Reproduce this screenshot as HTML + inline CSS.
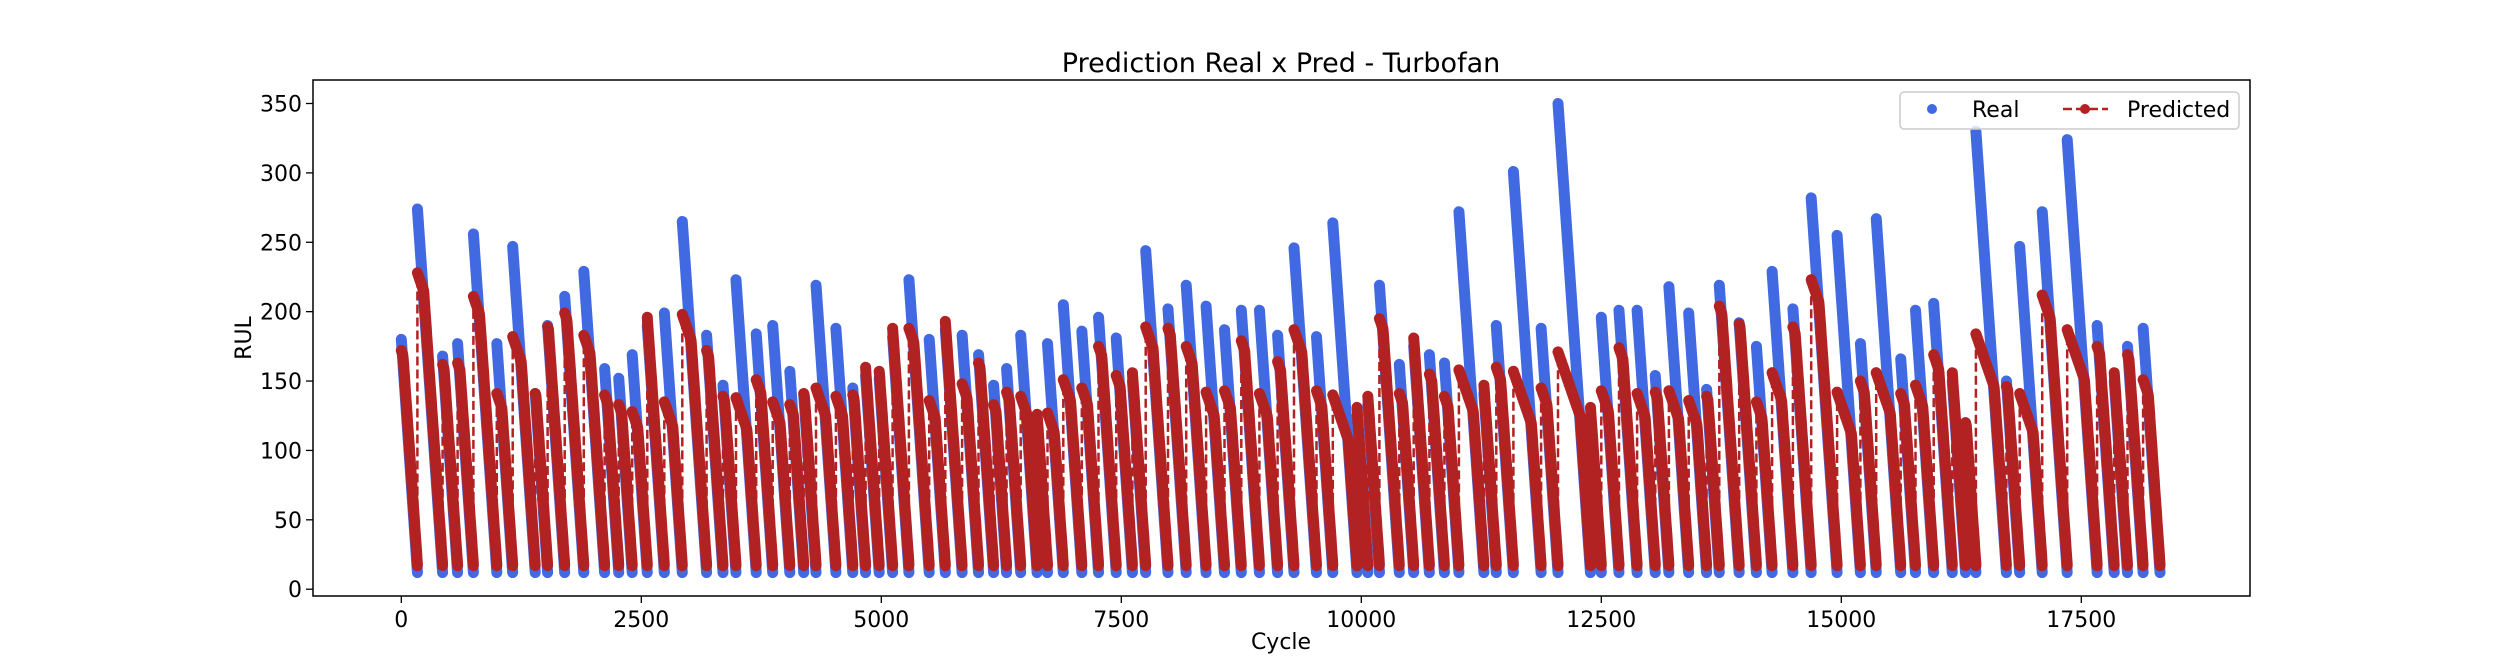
<!DOCTYPE html>
<html><head><meta charset="utf-8"><style>
html,body{margin:0;padding:0;background:#fff;}
svg{display:block;font-family:"DejaVu Sans","Liberation Sans",sans-serif;}
</style></head><body>
<svg id="chart" width="2500" height="670" viewBox="0 0 2500 670" xmlns="http://www.w3.org/2000/svg">
<rect x="0" y="0" width="2500" height="670" fill="#fff"/>
<text x="1281" y="72" font-size="27" text-anchor="middle" fill="#000">Prediction Real x Pred - Turbofan</text>
<g id="plot"></g>
<g id="axes"></g>
<text x="1281" y="649" font-size="22" text-anchor="middle" fill="#000">Cycle</text>
<text transform="translate(251,338) rotate(-90)" font-size="22" text-anchor="middle" fill="#000">RUL</text>
<g>
<rect x="1900" y="92" width="339" height="37" rx="4" fill="#fff" fill-opacity="0.8" stroke="#ccc" stroke-width="1.5"/>
<circle cx="1932" cy="109" r="5" fill="#4169e1"/>
<text x="1972" y="117" font-size="22" fill="#000">Real</text>
<line x1="2063" y1="109" x2="2108" y2="109" stroke="#b22222" stroke-width="2.5" stroke-dasharray="9,4"/>
<circle cx="2085" cy="109" r="5" fill="#b22222"/>
<text x="2127" y="117" font-size="22" fill="#000">Predicted</text>
</g>
</svg>
<script>
// Per-engine data
const realPeaks = [180,274,168,177,256,177,247,141,190,211,229,159,152,169,190,199,265,183,147,223,184,190,157,140,219,188,145,154,152,182,223,180,187,183,169,147,159,183,120,177,205,186,196,181,150,244,202,219,204,187,201,201,183,246,182,264,125,133,219,162,175,169,163,272,141,190,301,188,350,125,196,201,201,154,218,199,144,219,192,175,229,202,282,255,177,267,166,201,206,150,120,330,150,247,272,324,190,150,175,188];
const predStarts = [172,228,162,163,211,141,182,141,189,199,183,140,133,128,201,135,198,172,139,138,151,135,133,141,145,139,140,183,157,195,188,136,195,148,163,133,142,139,135,127,151,145,175,154,171,189,188,175,142,143,179,141,164,187,143,140,163,153,195,141,191,155,139,158,172,160,157,145,171,146,143,174,141,142,143,136,139,204,191,135,156,189,223,142,150,156,141,147,169,164,120,184,146,141,212,187,175,170,169,151];
const endValue = 12;
const xTicks = [0,2500,5000,7500,10000,12500,15000,17500];
const yTicks = [0,50,100,150,200,250,300,350];

const L=313,R=2250,T=80,B=596;
function xs(v){return 401.3+v*0.096;}
function ys(v){return 589.2-v*1.3877;}
const NS="http://www.w3.org/2000/svg";
const plot=document.getElementById('plot');
const axes=document.getElementById('axes');
function mk(tag,attrs,parent){const e=document.createElementNS(NS,tag);for(const k in attrs)e.setAttribute(k,attrs[k]);parent.appendChild(e);return e;}

let idx=0;const realSegs=[];const predPts=[];const predSegs=[];
for(let i=0;i<realPeaks.length;i++){
  const p=realPeaks[i],len=Math.max(5,p-endValue);
  realSegs.push([[idx,p],[idx+len,endValue]]);
  const seg=[];
  for(let t=0;t<=len;t+=4){
    const real=p-t*(p-endValue)/len;
    let v=Math.min(predStarts[i]-0.2*t,real+6);
    v=Math.max(v,17);
    seg.push([idx+t,v]);
  }
  seg.push([idx+len,17]);
  predSegs.push(seg);predPts.push(...seg);
  idx+=len;
}
realSegs.forEach((s,i)=>{
  const l=mk('line',{x1:xs(s[0][0]),y1:ys(s[0][1]),x2:xs(s[1][0]),y2:ys(s[1][1]),stroke:'#4169e1','stroke-width':11,'stroke-linecap':'round'},plot);
  
  
});
const dl=mk('polyline',{points:predPts.map(p=>xs(p[0]).toFixed(1)+','+ys(p[1]).toFixed(1)).join(' '),fill:'none',stroke:'#b22222','stroke-width':2.5,'stroke-dasharray':'9,4'},plot);


predSegs.forEach((s,i)=>{
  const pl=mk('polyline',{points:s.map(p=>xs(p[0]).toFixed(1)+','+ys(p[1]).toFixed(1)).join(' '),fill:'none',stroke:'#b22222','stroke-width':11,'stroke-linecap':'round','stroke-linejoin':'round'},plot);
  
  
});
const sp=mk('rect',{x:L,y:T,width:R-L,height:B-T,fill:'none',stroke:'#000','stroke-width':1.5},axes);


xTicks.forEach(v=>{
  const x=xs(v);
  mk('line',{x1:x,y1:B,x2:x,y2:B+7,stroke:'#000','stroke-width':1.3},axes);
  const t=mk('text',{x:x,y:B+31,'font-size':22,'text-anchor':'middle',fill:'#000'},axes);
  t.textContent=v;
  
  
});
yTicks.forEach(v=>{
  const y=ys(v);
  mk('line',{x1:L-7,y1:y,x2:L,y2:y,stroke:'#000','stroke-width':1.3},axes);
  const t=mk('text',{x:L-11,y:y+8,'font-size':22,'text-anchor':'end',fill:'#000'},axes);
  t.textContent=v;
  
  
});
</script>
</body></html>
